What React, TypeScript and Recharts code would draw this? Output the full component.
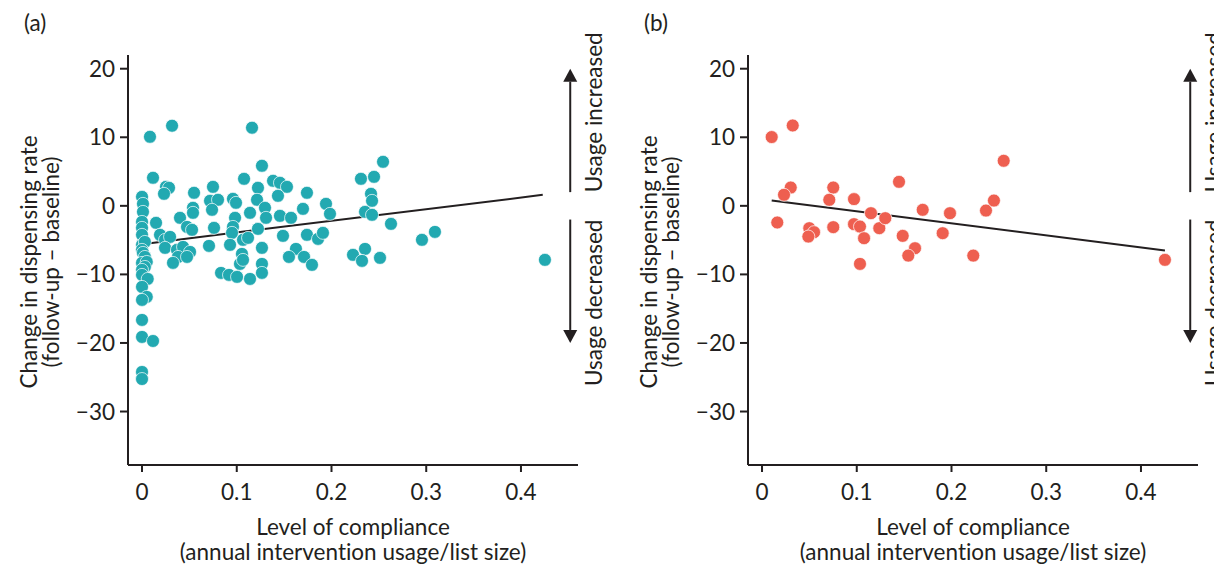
import React from 'react';
import { ScatterChart, Scatter, XAxis, YAxis, ReferenceLine } from 'recharts';

const FONT = 'Lato, "Noto Sans", sans-serif';
const INK = '#231f20';
const TEAL = '#22a9b1';
const CORAL = '#ee5f50';
const TEXT_SIZE = 22.5;

const xTicks = [0, 0.1, 0.2, 0.3, 0.4];
const yTicks = [-30, -20, -10, 0, 10, 20];
const xDomain: [number, number] = [-0.0148, 0.4602];
const yDomain: [number, number] = [-37.8, 22];

// (a) all practices: compliance level vs change in dispensing rate
const allCompliance = [
  0, 0.001, 0.001, 0, 0, 0, 0, 0.003, 0, 0.001, 0.003, 0, 0.005, 0.003, 0, 0, 0.006, 0, 0.005, 0, 0, 0, 0.0116, 0, 0,
  0.0084, 0.0317, 0.1161, 0.0116, 0.0148, 0.0253, 0.0285, 0.0232, 0.0549, 0.0749, 0.1077, 0.1266, 0.1224, 0.1383,
  0.1456, 0.153, 0.1435, 0.1741, 0.0401, 0.0538, 0.0538, 0.0718, 0.0802, 0.0739, 0.096, 0.0992, 0.1214, 0.1298,
  0.114, 0.1309, 0.1456, 0.1573, 0.1699, 0.1942, 0.1984, 0.2311, 0.2449, 0.2544, 0.2417, 0.2428, 0.2354, 0.2428,
  0.2628, 0.076, 0.0982, 0.096, 0.095, 0.1224, 0.019, 0.0243, 0.0296, 0.0475, 0.0528, 0.0243, 0.0369, 0.0433,
  0.0507, 0.038, 0.0475, 0.0327, 0.0707, 0.0929, 0.1066, 0.1119, 0.1266, 0.1488, 0.1741, 0.1858, 0.191, 0.1055,
  0.1034, 0.1066, 0.1266, 0.1266, 0.1625, 0.1551, 0.171, 0.1794, 0.2227, 0.2354, 0.2322, 0.2512, 0.0834, 0.0918,
  0.1003, 0.114, 0.3092, 0.2955, 0.4253,
];
const allChange = [
  1.31, 0.29, -0.88, -2.34, -3.21, -4.23, -5.69, -5.26, -6.42, -6.86, -7.45, -8.32, -8.18, -8.91, -9.34, -10.07,
  -10.66, -11.82, -13.28, -13.72, -16.64, -19.12, -19.71, -24.23, -25.26,
  10.07, 11.68, 11.39, 4.09, -2.48, 2.77, 2.63, 1.75, 1.9, 2.77, 3.94, 5.84, 2.63, 3.65,
  3.36, 2.77, 1.46, 1.9, -1.75, -0.29, -1.02, 0.73, 0.88, -0.58, 1.02, 0.44, 0.88, -0.29,
  -1.02, -1.75, -1.46, -1.75, -0.44, 0.29, -1.17, 3.94, 4.23, 6.42, 1.75, 0.73, -0.88, -1.31,
  -2.63, -3.21, -1.75, -3.07, -3.94, -3.36, -4.23, -4.96, -4.53, -3.07, -3.5, -6.13, -6.42, -5.99,
  -6.72, -7.45, -7.45, -8.32, -5.84, -5.69, -4.96, -4.67, -6.13, -4.38, -4.23, -4.82, -3.94, -7.01,
  -8.47, -7.88, -8.47, -9.78, -6.28, -7.45, -7.45, -8.61, -7.15, -6.28, -8.03, -7.59, -9.78, -10.07,
  -10.36, -10.66, -3.8, -4.96, -7.88,
];
const allTrend = [
  { x: 0.002, y: -5.55 },
  { x: 0.423, y: 1.6 },
];

// (b) subset of practices
const subCompliance = [
  0.0102, 0.0324, 0.0303, 0.0232, 0.0161, 0.0499, 0.0549, 0.0489, 0.0752, 0.071, 0.0752, 0.0971, 0.0971, 0.1034,
  0.1077, 0.1034, 0.115, 0.1238, 0.1301, 0.1446, 0.1485, 0.1615, 0.1544, 0.1696, 0.1907, 0.1984, 0.223, 0.2364,
  0.2448, 0.2551, 0.4253,
];
const subChange = [
  10.03, 11.72, 2.67, 1.61, -2.43, -3.26, -3.84, -4.48, 2.67, 0.88, -3.11, 0.98, -2.67, -3.02,
  -4.72, -8.47, -1.07, -3.26, -1.8, 3.5, -4.38, -6.18, -7.26, -0.58, -3.99, -1.07, -7.26, -0.69,
  0.77, 6.57, -7.88,
];
const subTrend = [
  { x: 0.0102, y: 0.77 },
  { x: 0.4253, y: -6.52 },
];

// Direction arrows beside each plot
const arrowX = 0.452;
const upArrow = [
  { x: arrowX, y: 2 },
  { x: arrowX, y: 20 },
];
const downArrow = [
  { x: arrowX, y: -2 },
  { x: arrowX, y: -20 },
];

const fmt = (v: number) => (v < 0 ? `\u2212${Math.abs(v)}` : String(v));

const Arrow = (label: string, reading: 'up' | 'down') => (props: any) => {
  const { x1, y1, x2, y2 } = props;
  const dir = y2 < y1 ? -1 : 1;
  const head = 13;
  const half = 7;
  const baseY = y2 - dir * head;
  const tx = x1 + 23;
  return (
    <g>
      <line x1={x1} y1={y1} x2={x2} y2={baseY} stroke={INK} strokeWidth={2} />
      <polygon points={`${x2},${y2} ${x2 - half},${baseY} ${x2 + half},${baseY}`} fill={INK} />
      <text
        x={tx}
        y={y1}
        transform={`rotate(-90, ${tx}, ${y1})`}
        textAnchor={reading === 'up' ? 'start' : 'end'}
        dominantBaseline="central"
        fontFamily={FONT}
        fontSize={TEXT_SIZE}
        fill={INK}
      >
        {label}
      </text>
    </g>
  );
};

const Dot = (color: string) => (p: any) => (
  <circle cx={p.cx} cy={p.cy} r={6.5} fill={color} stroke="#ffffff" strokeWidth={0.7} />
);

const YTitle = () => (
  <g fontFamily={FONT} fontSize={TEXT_SIZE} fill={INK}>
    <text transform="translate(28,262) rotate(-90)" textAnchor="middle" dominantBaseline="central">
      Change in dispensing rate
    </text>
    <text transform="translate(50,262) rotate(-90)" textAnchor="middle" dominantBaseline="central">
      (follow-up – baseline)
    </text>
  </g>
);

const XTitle = () => (
  <g fontFamily={FONT} fontSize={TEXT_SIZE} fill={INK} style={{ fontVariantLigatures: 'none' }}>
    <text x={353} y={526} textAnchor="middle" dominantBaseline="central">
      Level of compliance
    </text>
    <text x={353} y={551} textAnchor="middle" dominantBaseline="central">
      (annual intervention usage/list size)
    </text>
  </g>
);

type PanelProps = {
  tag: string;
  xs: number[];
  ys: number[];
  color: string;
  trend: { x: number; y: number }[];
  left: number;
};

const Panel = ({ tag, xs, ys, color, trend, left }: PanelProps) => {
  const data = xs.map((x, i) => ({ x, y: ys[i] }));
  const tick = { fill: INK, fontSize: TEXT_SIZE, fontFamily: FONT };
  const axisStroke = { stroke: INK, strokeWidth: 2 };
  return (
    <div style={{ position: 'absolute', left, top: 0, width: 620, height: 564 }}>
      <div
        style={{
          position: 'absolute',
          left: 24,
          top: 10,
          fontFamily: FONT,
          fontSize: TEXT_SIZE,
          lineHeight: '26px',
          color: INK,
        }}
      >
        {tag}
      </div>
      <ScatterChart width={620} height={564} margin={{ top: 55, right: 42, bottom: 0, left: 0 }}>
        <XAxis
          dataKey="x"
          type="number"
          domain={xDomain}
          ticks={xTicks}
          allowDataOverflow
          height={99}
          tickSize={7}
          tickMargin={12}
          tickFormatter={fmt}
          axisLine={axisStroke}
          tickLine={axisStroke}
          tick={tick}
          label={{ content: () => <XTitle /> }}
        />
        <YAxis
          dataKey="y"
          type="number"
          domain={yDomain}
          ticks={yTicks}
          allowDataOverflow
          width={128}
          tickSize={8}
          tickMargin={5}
          tickFormatter={fmt}
          axisLine={axisStroke}
          tickLine={axisStroke}
          tick={tick}
          label={{ content: () => <YTitle /> }}
        />
        <Scatter data={data} isAnimationActive={false} shape={Dot(color)} />
        <ReferenceLine segment={trend} stroke={INK} strokeWidth={2} />
        <ReferenceLine segment={upArrow} shape={Arrow('Usage increased', 'up')} />
        <ReferenceLine segment={downArrow} shape={Arrow('Usage decreased', 'down')} />
      </ScatterChart>
    </div>
  );
};

export default function App() {
  return (
    <div
      style={{
        position: 'fixed',
        left: 0,
        top: 0,
        width: 1214,
        height: 564,
        overflow: 'hidden',
        background: '#ffffff',
      }}
    >
      <Panel tag="(a)" xs={allCompliance} ys={allChange} color={TEAL} trend={allTrend} left={0} />
      <Panel tag="(b)" xs={subCompliance} ys={subChange} color={CORAL} trend={subTrend} left={620} />
    </div>
  );
}
